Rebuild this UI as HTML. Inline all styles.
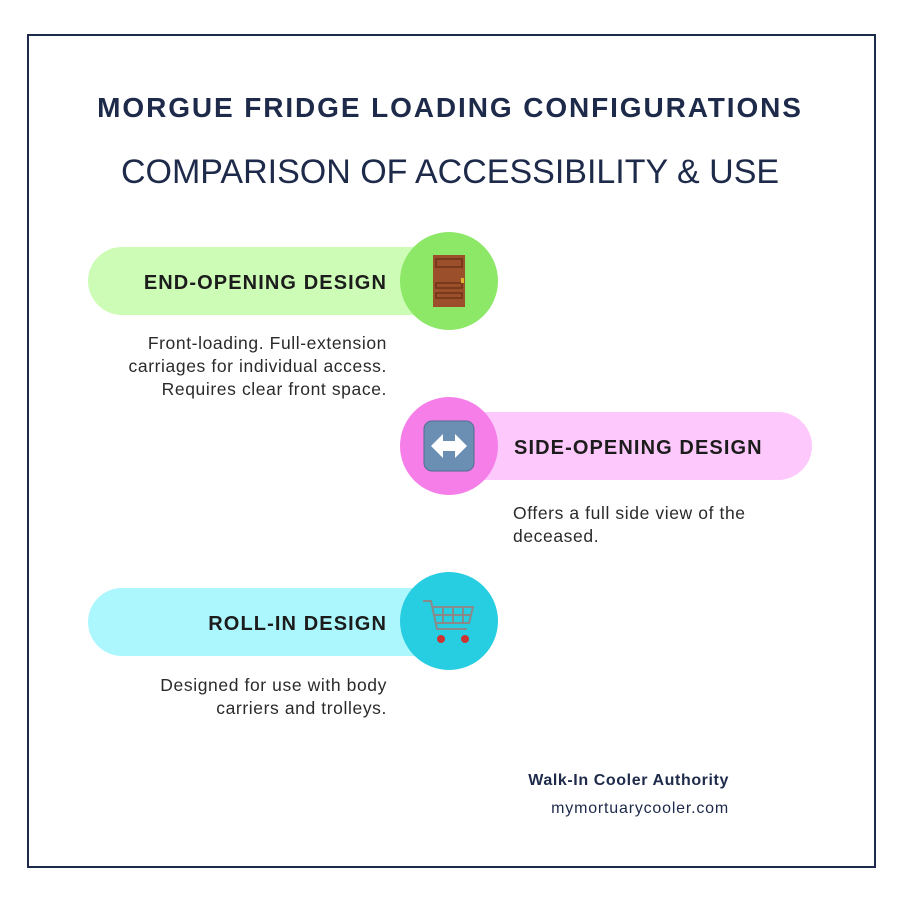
<!DOCTYPE html>
<html><head><meta charset="utf-8"><style>
body{margin:0;width:900px;height:900px;background:#fff;font-family:"Liberation Sans",sans-serif;position:relative;overflow:hidden;color:#1c1c1c}
.frame{position:absolute;left:27px;top:34px;width:845px;height:830px;border:2px solid #1e2a4a}
.a{position:absolute;white-space:nowrap}
.pill{position:absolute;height:68px;border-radius:34px}
.circ{position:absolute;width:98px;height:98px;border-radius:50%;display:flex;align-items:center;justify-content:center}
.lbl{position:absolute;font-weight:bold;font-size:20px;line-height:24px;letter-spacing:1.1px;white-space:nowrap}
.desc{position:absolute;font-size:17.5px;line-height:23px;color:#2a2a2a;letter-spacing:0.6px;white-space:nowrap}
</style></head><body>
<div class="frame"></div>
<div class="a" style="left:0;width:900px;text-align:center;top:92px;font-size:28px;font-weight:bold;color:#1e2a4a;letter-spacing:1.9px">MORGUE FRIDGE LOADING CONFIGURATIONS</div>
<div class="a" style="left:0;width:900px;text-align:center;top:153px;font-size:34px;color:#1e2a4a">COMPARISON OF ACCESSIBILITY &amp; USE</div>

<div class="pill" style="left:88px;top:247px;width:360px;background:#ccfcb6"></div>
<div class="circ" style="left:400px;top:232px;background:#8ce866">
<svg width="36" height="52"><rect x="2" y="0" width="32" height="52" fill="#9b4f2a"/><rect x="5" y="4" width="26" height="8" fill="none" stroke="#6e3418" stroke-width="1.5"/><rect x="5" y="28" width="26" height="5" fill="none" stroke="#6e3418" stroke-width="1.5"/><rect x="5" y="38" width="26" height="5" fill="none" stroke="#6e3418" stroke-width="1.5"/><rect x="30" y="23" width="3" height="5" fill="#e0b030"/></svg></div>
<div class="lbl" style="right:513px;top:271px">END-OPENING DESIGN</div>
<div class="desc" style="right:513px;top:332px;text-align:right">Front-loading. Full-extension<br>carriages for individual access.<br>Requires clear front space.</div>

<div class="pill" style="left:450px;top:412px;width:362px;background:#fdc8fb"></div>
<div class="circ" style="left:400px;top:397px;background:#f57ee9">
<svg width="52" height="52"><rect x="1" y="1" width="50" height="50" rx="8" fill="#6a8fb3" stroke="#4f6f90"/><path d="M8 26 L20 14 V21 H32 V14 L44 26 L32 38 V31 H20 V38 Z" fill="#fff"/></svg></div>
<div class="lbl" style="left:514px;top:436px">SIDE-OPENING DESIGN</div>
<div class="desc" style="left:513px;top:502px">Offers a full side view of the<br>deceased.</div>

<div class="pill" style="left:88px;top:588px;width:360px;background:#abf7fd"></div>
<div class="circ" style="left:400px;top:572px;background:#27cde0">
<svg width="56" height="52"><g fill="none" stroke="#8a8a8a" stroke-width="2"><path d="M2 6 H10 L16 34 H46"/><path d="M12 12 H52 L48 28 H15"/><path d="M22 12 V28 M32 12 V28 M42 12 V28 M13 20 H50"/></g><circle cx="20" cy="44" r="4" fill="#c33"/><circle cx="44" cy="44" r="4" fill="#c33"/></svg></div>
<div class="lbl" style="right:513px;top:612px">ROLL-IN DESIGN</div>
<div class="desc" style="right:513px;top:674px;text-align:right">Designed for use with body<br>carriers and trolleys.</div>

<div class="a" style="right:171px;top:772px;font-size:16px;font-weight:bold;color:#1e2a4a;letter-spacing:0.6px">Walk-In Cooler Authority</div>
<div class="a" style="right:171px;top:800px;font-size:16px;color:#1e2a4a;letter-spacing:0.8px">mymortuarycooler.com</div>
</body></html>
